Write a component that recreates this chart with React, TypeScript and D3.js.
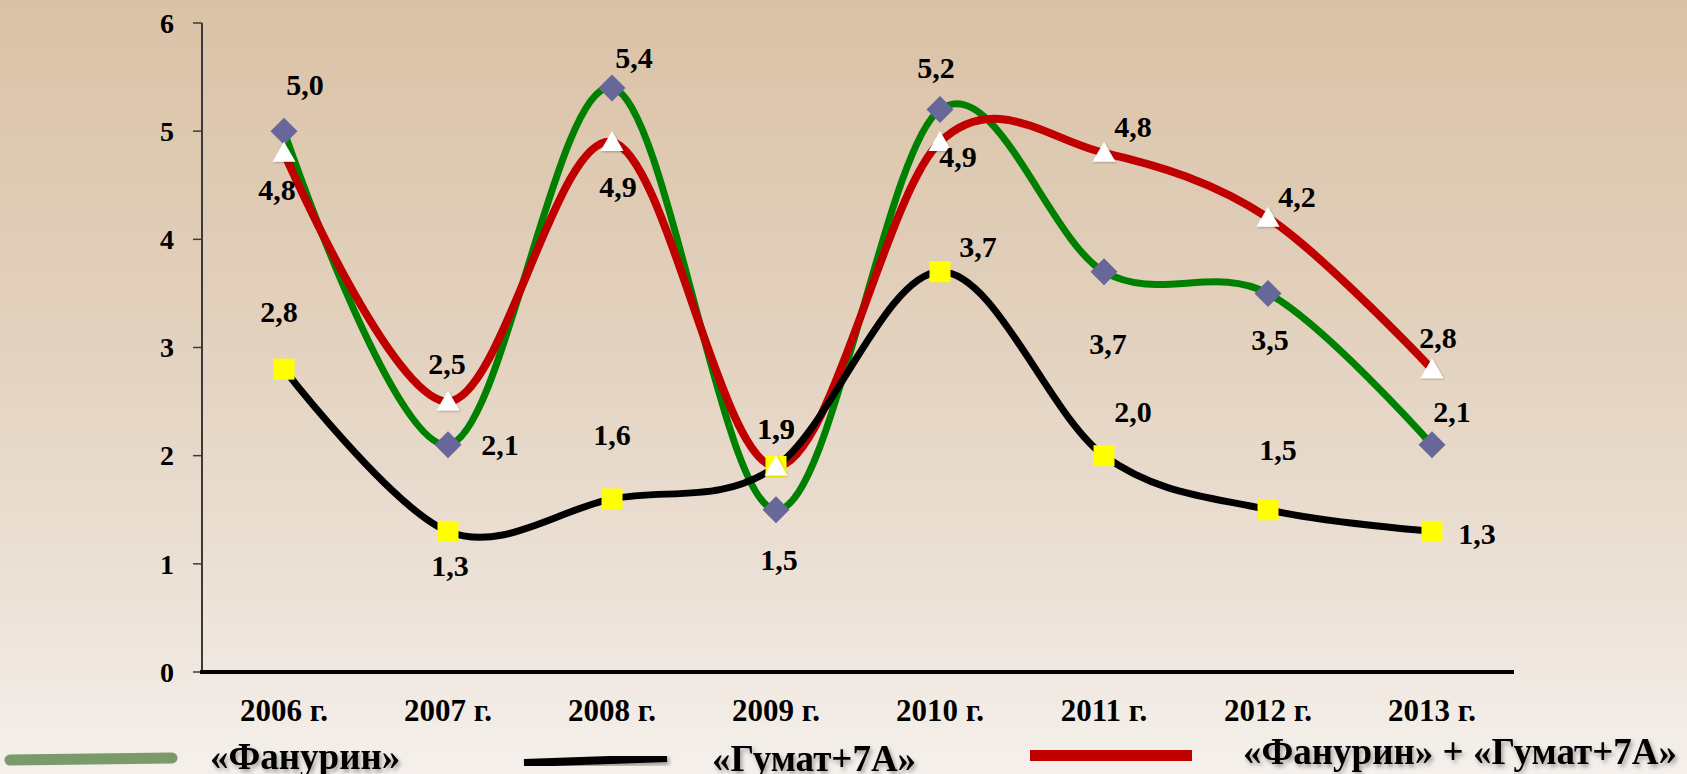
import React from "react";
import * as d3 from "d3";

const years = ["2006 г.", "2007 г.", "2008 г.", "2009 г.", "2010 г.", "2011 г.", "2012 г.", "2013 г."];
const fanurin = [5.0, 2.1, 5.4, 1.5, 5.2, 3.7, 3.5, 2.1];
const gumat = [2.8, 1.3, 1.6, 1.9, 3.7, 2.0, 1.5, 1.3];
const combined = [4.8, 2.5, 4.9, 1.9, 4.9, 4.8, 4.2, 2.8];
const yTicks = [0, 1, 2, 3, 4, 5, 6];
const legendNames = ["«Фанурин»", "«Гумат+7А»", "«Фанурин» + «Гумат+7А»"];

// label offsets (layout only)
const offFan: [number, number][] = [[21, -47], [52, 0], [22, -30], [3, 50], [-4, -42], [4, 72], [2, 46], [20, -33]];
const offGum: [number, number][] = [[-5, -58], [2, 34], [0, -64], [0, -38], [38, -25], [29, -44], [10, -60], [45, 2]];
const offCom: [number, number][] = [[-7, 37], [-1, -38], [6, 45], [0, -38], [18, 15], [29, -26], [29, -21], [6, -32]];

const W = 1687;
const H = 774;

export default function App() {
  const x = d3.scaleBand().domain(years).range([202, 1514]).paddingInner(0).paddingOuter(0);
  const cx = (i: number) => (x(years[i]) as number) + x.bandwidth() / 2;
  const y = d3.scaleLinear().domain([0, 6]).range([672, 23]);
  const line = d3
    .line<number>()
    .x((_, i) => cx(i))
    .y((d) => y(d))
    .curve(d3.curveCardinal.tension(0));
  const fmt = (v: number) => v.toFixed(1).replace(".", ",");
  const font = "'Liberation Serif', 'Times New Roman', serif";

  const diamond = "M0,-13.5L13.5,0L0,13.5L-13.5,0Z";
  const tri = "M0,-11L11.5,9L-11.5,9Z";

  const labels = (vals: number[], offs: [number, number][]) =>
    vals.map((v, i) => (
      <text
        key={i}
        x={cx(i) + offs[i][0]}
        y={y(v) + offs[i][1]}
        dy="0.35em"
        textAnchor="middle"
        fontFamily={font}
        fontWeight="bold"
        fontSize={30}
        fill="#000"
      >
        {fmt(v)}
      </text>
    ));

  return (
    <div style={{ position: "absolute", left: 0, top: 0 }}>
      <svg width={W} height={H} style={{ display: "block" }}>
        <defs>
          <linearGradient id="bg" x1="0" y1="0" x2="0" y2="1">
            <stop offset="0" stopColor="#dac2a6" />
            <stop offset="0.45" stopColor="#e3d2bf" />
            <stop offset="0.75" stopColor="#ece1d6" />
            <stop offset="1" stopColor="#f5f0ec" />
          </linearGradient>
          <filter id="sh" x="-10%" y="-30%" width="130%" height="180%">
            <feDropShadow dx="2" dy="3" stdDeviation="2" floodColor="#000" floodOpacity="0.35" />
          </filter>
          <filter id="shs" x="-30%" y="-30%" width="160%" height="160%">
            <feDropShadow dx="1" dy="1" stdDeviation="1" floodColor="#000" floodOpacity="0.25" />
          </filter>
        </defs>
        <rect x={0} y={0} width={W} height={H} fill="url(#bg)" />

        {/* y axis */}
        <line x1={202} x2={202} y1={y(6)} y2={y(0)} stroke="#3a3a3a" strokeWidth={2} />
        {yTicks.map((t) => (
          <g key={t}>
            <line x1={193} x2={202} y1={y(t)} y2={y(t)} stroke="#3a3a3a" strokeWidth={1.5} />
            <text
              x={174}
              y={y(t)}
              dy="0.35em"
              textAnchor="end"
              fontFamily={font}
              fontWeight="bold"
              fontSize={28}
            >
              {t}
            </text>
          </g>
        ))}
        {/* x axis */}
        <line x1={200} x2={1514} y1={y(0)} y2={y(0)} stroke="#000" strokeWidth={4} />
        {years.map((yr, i) => (
          <text
            key={yr}
            x={cx(i)}
            y={721}
            textAnchor="middle"
            fontFamily={font}
            fontWeight="bold"
            fontSize={31}
          >
            {yr}
          </text>
        ))}

        {/* lines */}
        <path d={line(fanurin) as string} fill="none" stroke="#008000" strokeWidth={7} />
        <path d={line(combined) as string} fill="none" stroke="#c00000" strokeWidth={8} />
        <path d={line(gumat) as string} fill="none" stroke="#000" strokeWidth={7} />

        {/* markers */}
        {fanurin.map((v, i) => (
          <path key={"d" + i} d={diamond} transform={`translate(${cx(i)},${y(v)})`} fill="#676799" />
        ))}
        {gumat.map((v, i) => (
          <rect key={"s" + i} x={cx(i) - 10.5} y={y(v) - 10.5} width={21} height={21} fill="#ffff00" />
        ))}
        {combined.map((v, i) => (
          <path
            key={"t" + i}
            d={tri}
            transform={`translate(${cx(i)},${y(v)})`}
            fill="#ffffff"
            filter="url(#shs)"
          />
        ))}

        {/* data labels */}
        {labels(fanurin, offFan)}
        {labels(gumat, offGum)}
        {labels(combined, offCom)}

        {/* legend */}
        <line x1={10} x2={172} y1={760} y2={758} stroke="#7b9a6a" strokeWidth={11} strokeLinecap="round" />
        <text x={210} y={769} fontFamily={font} fontWeight="bold" fontSize={37} filter="url(#sh)">
          {legendNames[0]}
        </text>
        <path d="M524,763 L667,758" stroke="#000" strokeWidth={8} fill="none" filter="url(#sh)" />
        <text x={712} y={771} fontFamily={font} fontWeight="bold" fontSize={37} filter="url(#sh)">
          {legendNames[1]}
        </text>
        <rect x={1030} y={750} width={162} height={11} fill="#c00000" />
        <text x={1243} y={764} fontFamily={font} fontWeight="bold" fontSize={37} filter="url(#sh)">
          {legendNames[2]}
        </text>
      </svg>
    </div>
  );
}
